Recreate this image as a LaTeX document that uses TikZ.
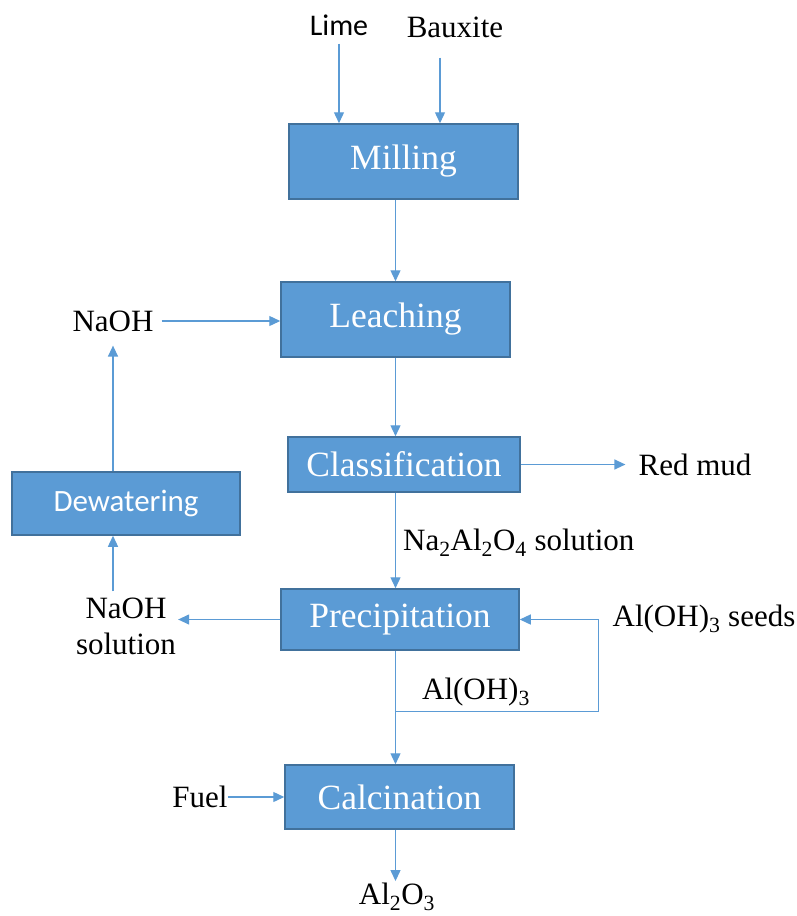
\documentclass[tikz,border=0pt]{standalone}
\usepackage{fontspec}
\setmainfont{Liberation Serif}
\newfontfamily\calfont{Carlito}
\usetikzlibrary{arrows.meta,calc}
\definecolor{boxfill}{HTML}{5B9BD5}
\definecolor{boxline}{HTML}{41719C}
\definecolor{arrcol}{HTML}{5B9BD5}
\tikzset{
  box/.style={draw=boxline, fill=boxfill, line width=1.5pt, text=white, inner sep=0pt, font=\fontsize{35.5}{40}\selectfont},
  lbl/.style={inner sep=0pt, font=\fontsize{31}{36}\selectfont, text=black},
  sanslbl/.style={inner sep=0pt, font=\calfont\fontsize{30}{34}\selectfont, text=black},
  arr/.style={draw=arrcol, line width=1.3pt, -{Triangle[length=11pt,width=10pt]}},
}
\begin{document}
\begin{tikzpicture}[x=1pt,y=-1pt]
\useasboundingbox (0,0) rectangle (796,916);
% boxes
\node[box, minimum width=229pt, minimum height=75pt] (mill) at (403.5,161.5) {Milling};
\node[box, minimum width=229pt, minimum height=75pt] (leach) at (395.5,319.5) {Leaching};
\node[box, minimum width=232pt, minimum height=55pt] (cls) at (404,464.5) {Classification};
\node[box, minimum width=228pt, minimum height=63pt, font=\calfont\fontsize{31}{36}\selectfont] (dew) at (126,503.5) {Dewatering};
\node[box, minimum width=238pt, minimum height=61pt] (prec) at (400,619.5) {Precipitation};
\node[box, minimum width=229pt, minimum height=64pt] (calc) at (399.5,797) {Calcination};
% labels
\node[sanslbl] (lime) at (339,25) {Lime};
\node[lbl] (baux) at (455,27) {Bauxite};
\node[lbl] (naoh) at (113,321) {NaOH};
\node[lbl, align=center] (naohsol) at (126,626) {NaOH\\solution};
\node[lbl] (redmud) at (695,465) {Red mud};
\node[lbl, anchor=west] (naal) at (403,543) {Na\textsubscript{2}Al\textsubscript{2}O\textsubscript{4} solution};
\node[lbl] (seeds) at (704,619) {Al(OH)\textsubscript{3} seeds};
\node[lbl] (aloh) at (476,692) {Al(OH)\textsubscript{3}};
\node[lbl] (fuel) at (200,797) {Fuel};
\node[lbl] (alo) at (397,897) {Al\textsubscript{2}O\textsubscript{3}};
% connectors
\draw[arr, shorten <=8pt] (lime.south) -- (lime.south |- mill.north);
\draw[arr, shorten <=20pt] ([xshift=-15pt]baux.south) -- ([xshift=-15pt]baux.south |- mill.north);
\draw[arr] (leach.north |- mill.south) -- (leach.north);
\draw[arr, shorten <=8pt] (naoh.east) -- (naoh.east -| leach.west);
\draw[arr] (leach.south) -- (leach.south |- cls.north);
\draw[arr, shorten >=13pt] (cls.east) -- (cls.east -| redmud.west);
\draw[arr] (leach.south |- cls.south) -- (leach.south |- prec.north);
\draw[arr, shorten >=14pt] (naoh |- dew.north) -- (naoh.south);
\draw[arr, shorten <=6pt] (naoh |- naohsol.north) -- (naoh |- dew.south);
\draw[arr, shorten >=2pt] (prec.west) -- (prec.west -| naohsol.east);
\draw[arr] (leach.south |- prec.south) -- (leach.south |- calc.north);
\coordinate (j) at ($(leach.south |- prec.south)+(0,61)$);
\coordinate (k) at ($(j)+(203,0)$);
\draw[arr] (j) -- (k) |- (prec.east);
\draw[arr] (fuel.east) -- (fuel.east -| calc.west);
\draw[arr, shorten >=2pt] (leach.south |- calc.south) -- (leach.south |- alo.north);
\end{tikzpicture}
\end{document}
